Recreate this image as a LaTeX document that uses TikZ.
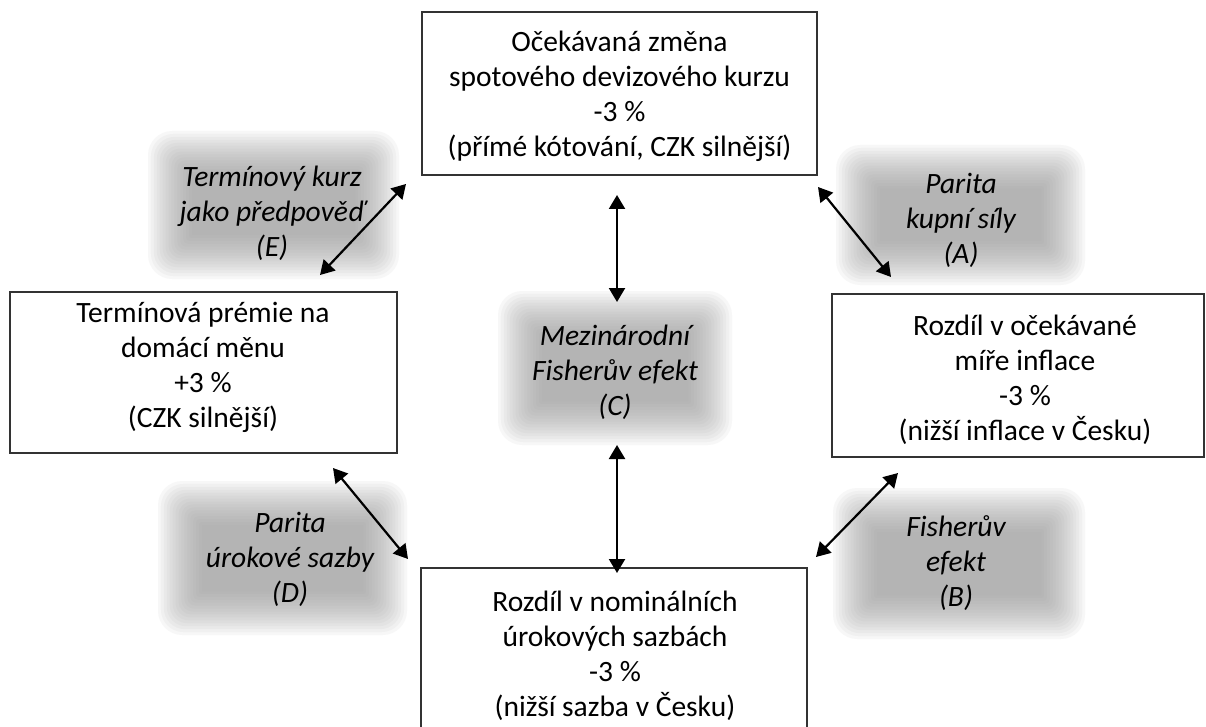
\documentclass[tikz,border=0pt]{standalone}
\usepackage{fontspec}
\setmainfont{Carlito}
\usetikzlibrary{arrows.meta}
\tikzset{
 box/.style={draw=black!80, line width=1.1pt, inner sep=0pt},
 txt/.style={align=center, inner sep=0pt, font=\fontsize{29.5}{35}\selectfont},
 lbl/.style={align=center, inner sep=0pt, font=\fontsize{29.5}{35}\selectfont\itshape},
 dbl/.style={{Triangle[length=14pt,width=16pt]}-{Triangle[length=14pt,width=16pt]}, line width=2.2pt},
 haze/.style={fill=black!38, fill opacity=0.08}
}
\newcommand\softgray[4]{%
  \foreach \i in {0,...,15}{%
    \pgfmathsetmacro\dd{22-\i*44/15}%
    \pgfmathsetmacro\rr{max(0.5,0.55*(\dd+22))}%
    \fill[haze, rounded corners=\rr pt] ({#1-\dd},{#2-\dd}) rectangle ({#3+\dd},{#4+\dd});
  }}
\begin{document}
\begin{tikzpicture}[x=1pt,y=-1pt]
\useasboundingbox (0,0) rectangle (1206,727);
\fill[white] (0,0) rectangle (1206,727);

% soft gray label backgrounds
\softgray{170}{153}{377}{257}
\softgray{858}{167}{1063}{263}
\softgray{520}{313}{710}{423}
\softgray{180}{503}{385}{613}
\softgray{855}{510}{1063}{617}

% boxes
\node[box, minimum width=395pt, minimum height=163pt] (topbox) at (619.5,93.5) {};
\node[box, minimum width=387pt, minimum height=161pt] (leftbox) at (203.5,372.5) {};
\node[box, minimum width=372pt, minimum height=163pt] (rightbox) at (1018,375.5) {};
\node[box, minimum width=386pt, minimum height=167pt] (botbox) at (614,651.5) {};

% box texts
\node[txt] (toptext) at (619.5,96) {Očekávaná změna\\spotového devizového kurzu\\-3 \%\\(přímé kótování, CZK silnější)};
\node[txt] (lefttext) at (203,367) {Termínová prémie na\\domácí měnu\\+3 \%\\(CZK silnější)};
\node[txt] (righttext) at (1025,380) {Rozdíl v očekávané\\míře inflace\\-3 \%\\(nižší inflace v Česku)};
\node[txt] (bottext) at (615,656) {Rozdíl v nominálních\\úrokových sazbách\\-3 \%\\(nižší sazba v Česku)};

% labels
\node[lbl] (labE) at (272,213) {Termínový kurz\\jako předpověď\\(E)};
\node[lbl] (labA) at (961,220) {Parita\\kupní síly\\(A)};
\node[lbl] (labC) at (615,372) {Mezinárodní\\Fisherův efekt\\(C)};
\node[lbl] (labD) at (290,559) {Parita\\úrokové sazby\\(D)};
\node[lbl] (labB) at (956,563) {Fisherův\\efekt\\(B)};

% arrow end points
\coordinate (eA) at (406,184);
\coordinate (eB) at (320,275);
\coordinate (aA) at (818,187);
\coordinate (aB) at (891,277);
\coordinate (cA) at (617,195);
\coordinate (cB) at (617,302);
\coordinate (cC) at (617,445);
\coordinate (cD) at (617,573);
\coordinate (dA) at (333,468);
\coordinate (dB) at (408,559);
\coordinate (bA) at (898,473);
\coordinate (bB) at (816,557);

\draw[dbl] (eB) -- (eA);
\draw[dbl] (aA) -- (aB);
\draw[dbl] (cA) -- (cB);
\draw[dbl] (cC) -- (cD);
\draw[dbl] (dA) -- (dB);
\draw[dbl] (bA) -- (bB);
\end{tikzpicture}
\end{document}
